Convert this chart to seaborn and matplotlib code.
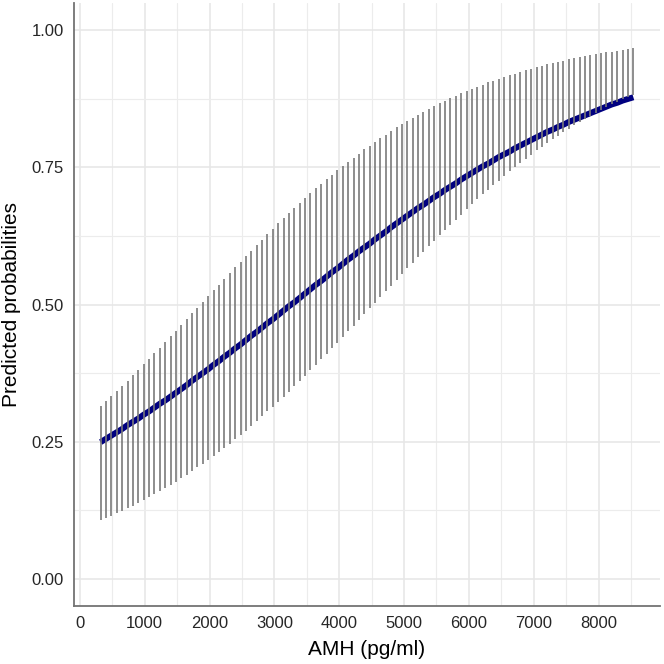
import numpy as np
import pandas as pd
import matplotlib
matplotlib.use('Agg')
import matplotlib.pyplot as plt
from matplotlib.ticker import MultipleLocator
import seaborn as sns

# AMH values (pg/ml) at which the predictions were drawn
amh = [320, 403, 486, 569, 652, 735, 818, 901, 984, 1067,
       1150, 1233, 1316, 1399, 1482, 1565, 1648, 1731, 1814, 1897,
       1980, 2063, 2146, 2229, 2312, 2395, 2478, 2561, 2644, 2727,
       2810, 2893, 2976, 3059, 3142, 3225, 3308, 3391, 3474, 3557,
       3640, 3723, 3806, 3889, 3972, 4055, 4138, 4221, 4304, 4387,
       4470, 4553, 4636, 4719, 4802, 4885, 4968, 5051, 5134, 5217,
       5300, 5383, 5466, 5549, 5632, 5715, 5798, 5881, 5964, 6047,
       6130, 6213, 6296, 6379, 6462, 6545, 6628, 6711, 6794, 6877,
       6960, 7043, 7126, 7209, 7292, 7375, 7458, 7541, 7624, 7707,
       7790, 7873, 7956, 8039, 8122, 8205, 8288, 8371, 8454, 8537]

# predicted probability
pred = [0.249, 0.255, 0.261, 0.267, 0.273, 0.280, 0.286, 0.292, 0.299, 0.305,
        0.312, 0.319, 0.325, 0.332, 0.339, 0.346, 0.353, 0.361, 0.368, 0.375,
        0.382, 0.390, 0.397, 0.405, 0.412, 0.420, 0.427, 0.435, 0.443, 0.450,
        0.458, 0.466, 0.473, 0.481, 0.489, 0.497, 0.504, 0.512, 0.520, 0.528,
        0.536, 0.543, 0.551, 0.559, 0.566, 0.574, 0.582, 0.589, 0.597, 0.604,
        0.611, 0.619, 0.626, 0.633, 0.641, 0.648, 0.655, 0.662, 0.669, 0.676,
        0.682, 0.689, 0.696, 0.702, 0.709, 0.715, 0.721, 0.728, 0.734, 0.740,
        0.746, 0.752, 0.757, 0.763, 0.769, 0.774, 0.779, 0.785, 0.790, 0.795,
        0.800, 0.805, 0.810, 0.815, 0.819, 0.824, 0.828, 0.833, 0.837, 0.841,
        0.845, 0.849, 0.853, 0.857, 0.861, 0.865, 0.868, 0.872, 0.875, 0.878]

# interval limits
upper = [0.314, 0.324, 0.333, 0.342, 0.352, 0.361, 0.371, 0.381, 0.391, 0.401,
         0.411, 0.421, 0.432, 0.442, 0.452, 0.463, 0.473, 0.484, 0.494, 0.505,
         0.515, 0.526, 0.536, 0.547, 0.557, 0.568, 0.578, 0.588, 0.598, 0.608,
         0.618, 0.628, 0.638, 0.648, 0.657, 0.667, 0.676, 0.685, 0.694, 0.703,
         0.712, 0.720, 0.729, 0.737, 0.745, 0.753, 0.760, 0.768, 0.775, 0.783,
         0.790, 0.797, 0.803, 0.810, 0.816, 0.823, 0.829, 0.835, 0.840, 0.846,
         0.851, 0.857, 0.862, 0.867, 0.871, 0.876, 0.881, 0.885, 0.889, 0.893,
         0.897, 0.901, 0.905, 0.908, 0.912, 0.915, 0.918, 0.921, 0.924, 0.927,
         0.930, 0.933, 0.935, 0.938, 0.940, 0.943, 0.945, 0.947, 0.949, 0.951,
         0.953, 0.955, 0.957, 0.958, 0.960, 0.961, 0.963, 0.964, 0.966, 0.967]

lower = [0.107, 0.111, 0.115, 0.119, 0.124, 0.128, 0.133, 0.138, 0.143, 0.148,
         0.154, 0.159, 0.165, 0.171, 0.177, 0.183, 0.189, 0.196, 0.203, 0.209,
         0.216, 0.224, 0.231, 0.239, 0.246, 0.254, 0.262, 0.270, 0.279, 0.287,
         0.296, 0.305, 0.313, 0.323, 0.332, 0.341, 0.351, 0.360, 0.370, 0.380,
         0.390, 0.400, 0.410, 0.420, 0.430, 0.441, 0.451, 0.461, 0.472, 0.482,
         0.493, 0.503, 0.514, 0.524, 0.534, 0.545, 0.555, 0.566, 0.576, 0.586,
         0.596, 0.606, 0.616, 0.626, 0.636, 0.645, 0.655, 0.664, 0.674, 0.683,
         0.692, 0.701, 0.709, 0.718, 0.726, 0.735, 0.743, 0.751, 0.758, 0.766,
         0.773, 0.781, 0.788, 0.795, 0.801, 0.808, 0.814, 0.821, 0.827, 0.833,
         0.838, 0.844, 0.849, 0.855, 0.860, 0.865, 0.870, 0.874, 0.879, 0.883]

df = pd.DataFrame({'amh': amh, 'pred': pred, 'lower': lower, 'upper': upper})

sns.set_theme(style='white')
plt.rcParams['font.family'] = ['Liberation Sans', 'DejaVu Sans']

fig = plt.figure(figsize=(6.64, 6.64), dpi=100)
ax = fig.add_axes([0.1114, 0.0873, 0.8826, 0.9082])

# line first, bars on top of it
sns.lineplot(data=df, x='amh', y='pred', ax=ax, color='#000080',
             linewidth=4.3, zorder=2, solid_capstyle='butt')
ax.vlines(df['amh'], df['lower'], df['upper'], color='#7a7a7a',
          linewidth=1.2, zorder=3)

ax.set_xlim(-91, 8948)
ax.set_ylim(-0.05, 1.05)
ax.xaxis.set_major_locator(MultipleLocator(1000))
ax.xaxis.set_minor_locator(MultipleLocator(500))
ax.yaxis.set_major_locator(MultipleLocator(0.25))
ax.yaxis.set_minor_locator(MultipleLocator(0.125))
ax.yaxis.set_major_formatter(matplotlib.ticker.FormatStrFormatter('%.2f'))

ax.grid(which='major', color='#e6e6e6', linewidth=1.1, zorder=0)
ax.grid(which='minor', color='#ececec', linewidth=0.8, zorder=0)
ax.set_axisbelow(True)

for s in ['top', 'right']:
    ax.spines[s].set_visible(False)
for s in ['left', 'bottom']:
    ax.spines[s].set_color('#737373')
    ax.spines[s].set_linewidth(1.3)

ax.tick_params(which='both', length=0, labelsize=12, labelcolor='#262626', pad=7.5)
ax.set_xlabel('AMH (pg/ml)', fontsize=15, color='black', labelpad=6)
ax.set_ylabel('Predicted probabilities', fontsize=15, color='black', labelpad=7)

fig.savefig('out.png', dpi=100)
